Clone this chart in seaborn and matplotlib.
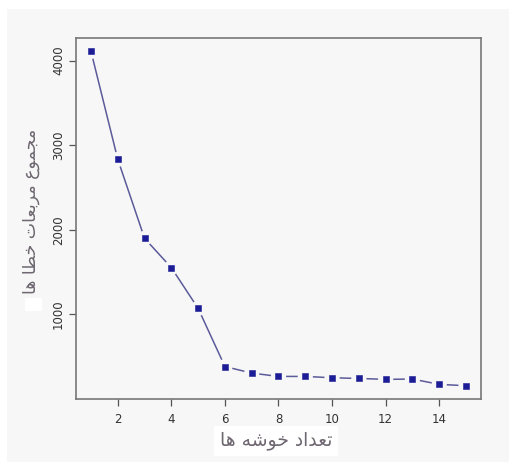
import matplotlib
matplotlib.use("Agg")
import matplotlib.pyplot as plt
import seaborn as sns
import pandas as pd
from matplotlib.patches import Rectangle

clusters = [1, 2, 3, 4, 5, 6, 7, 8, 9, 10, 11, 12, 13, 14, 15]
sse = [4110, 2833, 1899, 1553, 1071, 384, 306, 267, 267, 251, 243, 232, 236, 173, 157]
x_ticks = [2, 4, 6, 8, 10, 12, 14]
y_ticks = [1000, 2000, 3000, 4000]
x_label = "تعداد خوشه ها"
y_label = "مجموع مربعات خطا ها"

# --- minimal Arabic/Persian shaping (presentation forms) ---
FORMS = {
    '\u0627': ('\uFE8D', '\uFE8E', None, None),
    '\u0628': ('\uFE8F', '\uFE90', '\uFE91', '\uFE92'),
    '\u062A': ('\uFE95', '\uFE96', '\uFE97', '\uFE98'),
    '\u062C': ('\uFE9D', '\uFE9E', '\uFE9F', '\uFEA0'),
    '\u062E': ('\uFEA5', '\uFEA6', '\uFEA7', '\uFEA8'),
    '\u062F': ('\uFEA9', '\uFEAA', None, None),
    '\u0631': ('\uFEAD', '\uFEAE', None, None),
    '\u0634': ('\uFEB5', '\uFEB6', '\uFEB7', '\uFEB8'),
    '\u0637': ('\uFEC1', '\uFEC2', '\uFEC3', '\uFEC4'),
    '\u0639': ('\uFEC9', '\uFECA', '\uFECB', '\uFECC'),
    '\u0645': ('\uFEE1', '\uFEE2', '\uFEE3', '\uFEE4'),
    '\u0647': ('\uFEE9', '\uFEEA', '\uFEEB', '\uFEEC'),
    '\u0648': ('\uFEED', '\uFEEE', None, None),
}


def shape(text):
    out = []
    n = len(text)
    for i, ch in enumerate(text):
        if ch not in FORMS:
            out.append(ch)
            continue
        f = FORMS[ch]
        prev = text[i - 1] if i > 0 else None
        nxt = text[i + 1] if i < n - 1 else None
        join_prev = prev in FORMS and FORMS[prev][2] is not None
        join_next = nxt in FORMS and f[2] is not None
        if join_prev and join_next:
            out.append(f[3])
        elif join_prev:
            out.append(f[1])
        elif join_next:
            out.append(f[2])
        else:
            out.append(f[0])
    return ''.join(out)[::-1]


bg = "#f7f7f7"
sns.set_theme(style="white")
plt.rcParams['font.family'] = ['DejaVu Sans']

df = pd.DataFrame({"k": clusters, "sse": sse})

fig = plt.figure(figsize=(5.10, 4.62), dpi=100, facecolor=bg)
fig.patches.append(Rectangle((0, 0), 1, 1, transform=fig.transFigure,
                             facecolor=bg, edgecolor="none", zorder=-3))
# white borders top and left
fig.patches.append(Rectangle((0, 1 - 9 / 462), 1, 9 / 462, transform=fig.transFigure,
                             facecolor="white", edgecolor="none", zorder=-2))
fig.patches.append(Rectangle((0, 0), 7 / 510, 1, transform=fig.transFigure,
                             facecolor="white", edgecolor="none", zorder=-2))

ax = fig.add_axes([76 / 510, 63 / 462, 405 / 510, 361 / 462])
ax.set_facecolor(bg)

sns.lineplot(data=df, x="k", y="sse", ax=ax, color="#5b5a9a", linewidth=1.1, zorder=1)
sns.scatterplot(data=df, x="k", y="sse", ax=ax, marker="o", s=120, color=bg,
                edgecolor="none", linewidth=0, zorder=2)
sns.scatterplot(data=df, x="k", y="sse", ax=ax, marker="s", s=13, color="#1c1c96",
                edgecolor="#1c1c96", linewidth=0.4, zorder=3)

ax.set_xlim(0.44, 15.56)
ax.set_ylim(0, 4268)
ax.set_xticks(x_ticks)
ax.set_yticks(y_ticks)
ax.set_xticklabels([str(t) for t in x_ticks], fontsize=8.5, color="#333333")
ax.set_yticklabels([str(t) for t in y_ticks], fontsize=8.5, color="#333333",
                   rotation=90, va="center")
ax.tick_params(axis="both", which="major", direction="out", length=5, width=0.9,
               color="#555555", bottom=True, left=True, pad=5)
ax.tick_params(axis="y", pad=3)
for s in ax.spines.values():
    s.set_color("#777777")
    s.set_linewidth(1.2)
ax.set_xlabel("")
ax.set_ylabel("")

# small white patch near the y label
fig.patches.append(Rectangle((25 / 510, 1 - 311 / 462), 17 / 510, 13 / 462,
                             transform=fig.transFigure, facecolor="white",
                             edgecolor="none", zorder=-1))

fig.text(276 / 510, 1 - 441 / 462, shape(x_label), fontsize=13.5, color="#6e6670",
         ha="center", va="center",
         bbox=dict(facecolor="white", edgecolor="none", pad=4))
fig.text(31 / 510, 1 - 211 / 462, shape(y_label), fontsize=12.5, color="#6e6670",
         ha="center", va="center", rotation=90)

fig.savefig("out.png", dpi=100, facecolor=bg)
